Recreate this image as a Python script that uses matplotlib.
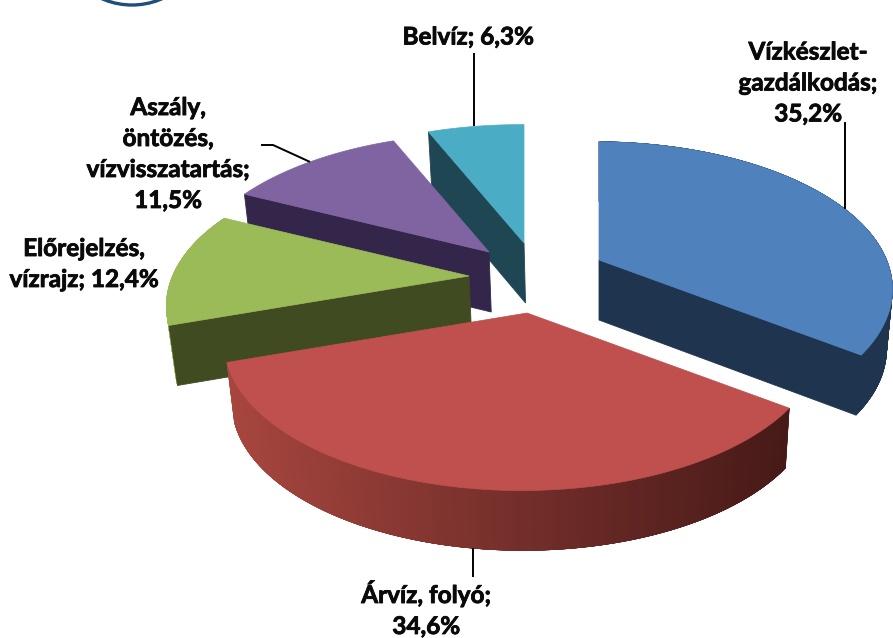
import numpy as np
import matplotlib
matplotlib.use("Agg")
import matplotlib.pyplot as plt
import matplotlib.patheffects as pe
from matplotlib.patches import Polygon, Arc
from matplotlib.colors import to_rgb

# data
categories = ["Vízkészlet-\ngazdálkodás;", "Árvíz, folyó;", "Előrejelzés,\nvízrajz;", "Aszály,\nöntözés,\nvízvisszatartás;", "Belvíz;"]
values = [35.2, 34.6, 12.4, 11.5, 6.3]
value_labels = ["35,2%", "34,6%", "12,4%", "11,5%", "6,3%"]

# style
top_colors = ["#4f81bd", "#bf504d", "#9bbb59", "#8064a2", "#4bacc6"]
cut_colors = ["#1f344f", "#4a1c1a", "#414b22", "#33264a", "#1f4753"]
wall_left = ["#1f344f", "#a8463f", "#a6c565", "#33264a", "#1f4753"]
wall_right = ["#1f344f", "#471a18", "#93b255", "#33264a", "#1f4753"]
explode_x = [71, -1, -59, -39, -4]
explode_y = [-15, 38, 1, -23, -32]
front_cut = [-1, None, 0, 0, 0]
has_wall = [True, True, True, False, False]
draw_order = [4, 3, 2, 0, 1]
CX, CY = 528, 275
A, B, K, L = 292, 142, 0.2, 0.015
DEPTH, VX, VF = 60, 600, 0.02
label_pos = [(808, 83), (426, 609), (84, 264), (168, 154), (468, 37)]
leaders = [[845, 122, 845], [473, 577, 473], None, [261, 145, 273, 145, 310], [474, 53, 474]]

fig = plt.figure(figsize=(8.93, 6.38), dpi=100)
ax = fig.add_axes([0, 0, 1, 1])
ax.set_xlim(0, 893)
ax.set_ylim(638, 0)
ax.axis("off")


def rim(theta_deg, ox, oy):
    t = np.radians(theta_deg)
    u, v = np.sin(t), np.cos(t)
    w = 1 + K * v + L * u
    return ox + A * u / w, oy - B * v / w


def drop(x, y):
    return x + (VX - x) * VF, y + DEPTH


edges = np.concatenate([[0], np.cumsum(values)]) / sum(values) * 360
origins = [(CX + dx, CY + dy) for dx, dy in zip(explode_x, explode_y)]
outlines = {}

for i in draw_order:
    ox, oy = origins[i]
    th = np.linspace(edges[i], edges[i + 1], 200)
    xs, ys = rim(th, ox, oy)
    bx, by = drop(xs, ys)
    abx, aby = drop(ox, oy)
    outlines[i] = (xs, ys, bx, by)
    # outer wall, shaded along x; strips overlap so no seams appear
    if has_wall[i]:
        lo, hi = xs.min(), xs.max()
        c0, c1 = np.array(to_rgb(wall_left[i])), np.array(to_rgb(wall_right[i]))
        order = range(len(th) - 1) if i != 1 else range(len(th) - 2, -1, -1)
        for j in order:
            k0, k1 = max(j - 2, 0), min(j + 3, len(th) - 1)
            f = (xs[j] - lo) / max(hi - lo, 1)
            col = c0 + (c1 - c0) * f
            ax.add_patch(Polygon([(xs[k0], ys[k0]), (xs[k1], ys[k1]), (bx[k1], by[k1]), (bx[k0], by[k0])],
                                 closed=True, fc=col, ec=col, lw=0.3))
    # the cut face that looks toward the viewer
    j = front_cut[i]
    if j is not None:
        ax.add_patch(Polygon([(ox, oy), (xs[j], ys[j]), (bx[j], by[j]), (abx, aby)],
                             closed=True, fc=cut_colors[i], ec=cut_colors[i], lw=0.6))
    # top face
    ax.add_patch(Polygon(np.column_stack([np.r_[ox, xs], np.r_[oy, ys]]), closed=True,
                         fc=top_colors[i], ec=top_colors[i], lw=0.5))

# leader lines, ending on the slice rims
for i, path in enumerate(leaders):
    if path is None:
        continue
    xs, ys, bx, by = outlines[i]
    end_x = path[-1]
    if i == 1:
        order = np.argsort(bx)
        end_y = np.interp(end_x, bx[order], by[order])
    else:
        order = np.argsort(xs)
        end_y = np.interp(end_x, xs[order], ys[order])
    px = path[0::2]
    py = path[1::2] + [end_y]
    ax.plot(px, py, color="black", lw=1.4, solid_capstyle="butt", zorder=5)

for i in range(len(values)):
    sep = " " if i in (2, 4) else "\n"
    ax.text(*label_pos[i], categories[i] + sep + value_labels[i], family="Lato", weight="bold",
            fontsize=17.5, color="#0a0a0a", ha="center", va="center", linespacing=1.42, zorder=6,
            path_effects=[pe.withStroke(linewidth=0.6, foreground="#0a0a0a")])

# logo remnant at the top edge
ax.add_patch(Arc((132, -60), 140, 130, theta1=0, theta2=180, color="#1f4e79", lw=2.4))

fig.savefig("out.png", dpi=100, facecolor="white")
